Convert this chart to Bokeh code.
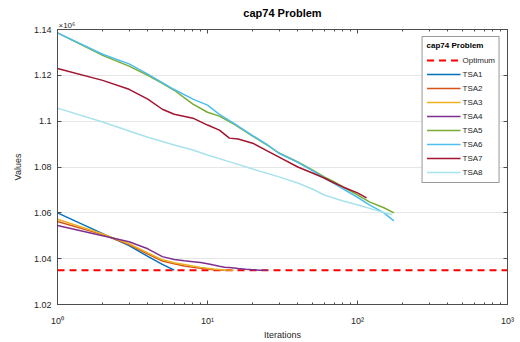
from bokeh.plotting import figure
from bokeh.models import (Range1d, FixedTicker, LogTicker, LinearAxis, LogAxis,
                          Title, Legend, LegendItem)
from bokeh.embed import file_html
from bokeh.resources import INLINE

# ---- data (values in units of 10^6) ----
optimum = 1.03498
opt_x = [1, 1000]

tsa1_x = [1, 2, 3, 4, 5, 6]
tsa1_y = [1.0600, 1.0509, 1.0457, 1.0410, 1.0375, 1.03498]

tsa2_x = [1, 2, 3, 4, 5, 6, 7, 8, 9, 10, 11, 12, 13]
tsa2_y = [1.0562, 1.0505, 1.0462, 1.0420, 1.0390, 1.0378, 1.0368, 1.0362,
          1.0358, 1.0355, 1.0352, 1.0350, 1.03498]

tsa3_x = [1, 2, 3, 4, 5, 6, 7, 8, 9, 10, 11, 12, 13, 14, 15]
tsa3_y = [1.0572, 1.0508, 1.0465, 1.0425, 1.0395, 1.0382, 1.0375, 1.0368,
          1.0362, 1.0358, 1.0355, 1.0353, 1.0351, 1.0350, 1.03498]

tsa4_x = [1, 2, 3, 4, 5, 6, 7, 8, 9, 10, 11, 12, 13, 14, 15, 16, 18, 20, 22, 25]
tsa4_y = [1.0545, 1.0500, 1.0474, 1.0443, 1.0409, 1.0396, 1.0391, 1.0387,
          1.0383, 1.0378, 1.0372, 1.0367, 1.0363, 1.0361, 1.0359, 1.0357,
          1.0354, 1.0352, 1.03498, 1.03498]

tsa5_x = [1, 2, 3, 4, 5, 6, 8, 10, 12, 15, 20, 25, 30, 40, 50, 60, 70, 80,
          100, 120, 150, 175]
tsa5_y = [1.1385, 1.1287, 1.1240, 1.1200, 1.1165, 1.1135, 1.1074, 1.1039,
          1.1022, 1.0987, 1.0935, 1.0896, 1.0861, 1.0822, 1.0787, 1.0757,
          1.0735, 1.0713, 1.0678, 1.0648, 1.0622, 1.0600]

tsa6_x = [1, 2, 3, 4, 5, 6, 8, 10, 12, 15, 20, 25, 30, 40, 50, 60, 70, 80,
          100, 120, 150, 175]
tsa6_y = [1.1385, 1.1292, 1.1250, 1.1205, 1.1168, 1.1138, 1.1096, 1.1070,
          1.1030, 1.0990, 1.0937, 1.0898, 1.0860, 1.0820, 1.0784, 1.0752,
          1.0728, 1.0705, 1.0668, 1.0635, 1.0600, 1.0565]

tsa7_x = [1, 2, 3, 4, 5, 6, 8, 10, 12, 14, 16, 20, 25, 30, 40, 50, 60, 70,
          80, 100, 115]
tsa7_y = [1.1230, 1.1178, 1.1139, 1.1096, 1.1052, 1.1030, 1.1013, 1.0983,
          1.0961, 1.0926, 1.0922, 1.0904, 1.0870, 1.0843, 1.0800, 1.0774,
          1.0752, 1.0730, 1.0713, 1.0687, 1.0665]

tsa8_x = [1, 2, 3, 4, 6, 8, 10, 15, 20, 30, 40, 50, 60, 80, 100, 130, 170]
tsa8_y = [1.1057, 1.0996, 1.0957, 1.0930, 1.0896, 1.0874, 1.0852, 1.0817,
          1.0791, 1.0757, 1.0730, 1.0704, 1.0678, 1.0652, 1.0635, 1.0613,
          1.0592]

y_ticks = [1.02, 1.04, 1.06, 1.08, 1.10, 1.12, 1.14]
y_tick_labels = ["1.02", "1.04", "1.06", "1.08", "1.1", "1.12", "1.14"]
x_tick_labels = {1: "10⁰", 10: "10¹", 100: "10²", 1000: "10³"}

series = [
    ("TSA1", tsa1_x, tsa1_y, "#0072BD"),
    ("TSA2", tsa2_x, tsa2_y, "#D95319"),
    ("TSA3", tsa3_x, tsa3_y, "#EDB120"),
    ("TSA4", tsa4_x, tsa4_y, "#7E2F8E"),
    ("TSA5", tsa5_x, tsa5_y, "#77AC30"),
    ("TSA6", tsa6_x, tsa6_y, "#4DBEEE"),
    ("TSA7", tsa7_x, tsa7_y, "#A2142F"),
    ("TSA8", tsa8_x, tsa8_y, "#A8E2EC"),
]

FONT = "Liberation Sans"
AX = "#4d4d4d"

p = figure(width=520, height=342, x_axis_type="log",
           x_range=Range1d(1, 1000), y_range=Range1d(1.02, 1.14),
           output_backend="svg", toolbar_location=None, title=None,
           min_border_left=57, min_border_right=13, min_border_top=29,
           min_border_bottom=38)

p.outline_line_color = AX
p.background_fill_color = "white"
p.border_fill_color = "white"

p.xgrid.visible = False
p.ygrid.grid_line_color = "#e6e6e6"
p.ygrid.ticker = FixedTicker(ticks=y_ticks)

p.yaxis.ticker = FixedTicker(ticks=y_ticks)
p.yaxis.major_label_overrides = {t: l for t, l in zip(y_ticks, y_tick_labels)}
p.xaxis.ticker = LogTicker(num_minor_ticks=10)
p.xaxis.major_label_overrides = x_tick_labels

for ax in [p.xaxis[0], p.yaxis[0]]:
    ax.axis_line_color = AX
    ax.major_tick_line_color = AX
    ax.minor_tick_line_color = AX
    ax.major_tick_in = 4
    ax.major_tick_out = 0
    ax.minor_tick_in = 2
    ax.minor_tick_out = 0
    ax.major_label_text_font = FONT
    ax.major_label_text_font_size = "9px"
    ax.major_label_text_color = "#262626"
    ax.axis_label_text_font = FONT
    ax.axis_label_text_font_size = "9px"
    ax.axis_label_text_font_style = "normal"
    ax.axis_label_text_color = "#262626"

p.yaxis.major_label_standoff = 6
p.xaxis.major_label_standoff = 11
p.yaxis.minor_tick_line_color = None
p.xaxis.axis_label = "Iterations"
p.yaxis.axis_label = "Values"
p.xaxis.axis_label_standoff = 1
p.yaxis.axis_label_standoff = 8

right = LinearAxis(ticker=FixedTicker(ticks=y_ticks), major_label_text_font_size="1px",
                   major_label_text_alpha=0, major_label_standoff=0,
                   axis_line_color=AX, major_tick_line_color=AX,
                   major_tick_in=4, major_tick_out=0, minor_tick_line_color=None)
p.add_layout(right, "right")
top = LogAxis(ticker=LogTicker(num_minor_ticks=10), major_label_text_font_size="1px",
              major_label_text_alpha=0, major_label_standoff=0,
              axis_line_color=AX, major_tick_line_color=AX,
              minor_tick_line_color=AX, major_tick_in=4, major_tick_out=0,
              minor_tick_in=2, minor_tick_out=0)
p.add_layout(top, "above")

p.add_layout(Title(text="×10⁶", align="left", text_font=FONT, text_font_size="8px",
                   text_font_style="normal", text_color="#262626", standoff=0,
                   offset=1), "above")
p.add_layout(Title(text="cap74 Problem", align="center", text_font=FONT,
                   text_font_size="11px", text_font_style="bold",
                   text_color="#000000", standoff=0), "above")

items = []
r = p.line(opt_x, [optimum, optimum], line_color="#FF0000", line_width=2,
           line_dash="7 5")
items.append(LegendItem(label="Optimum", renderers=[r]))
rs = []
for name, xs, ys, col in series:
    rr = p.line(xs, ys, line_color=col, line_width=1.5)
    rs.append((name, rr))
for name, rr in rs:
    items.append(LegendItem(label=name, renderers=[rr]))

legend = Legend(items=items, location="top_right")
legend.title = "cap74 Problem"
legend.title_text_font = FONT
legend.title_text_font_size = "8px"
legend.title_text_font_style = "bold"
legend.title_text_color = "#000000"
legend.title_standoff = 4
legend.label_text_font = FONT
legend.label_text_font_size = "8px"
legend.label_text_color = "#262626"
legend.glyph_width = 34
legend.glyph_height = 12
legend.label_height = 12
legend.label_standoff = 2
legend.spacing = 2
legend.padding = 4
legend.margin = 7
legend.border_line_color = "#333333"
legend.border_line_width = 1
legend.background_fill_alpha = 1.0
p.add_layout(legend)

open("out.html", "w").write(file_html(p, INLINE))
